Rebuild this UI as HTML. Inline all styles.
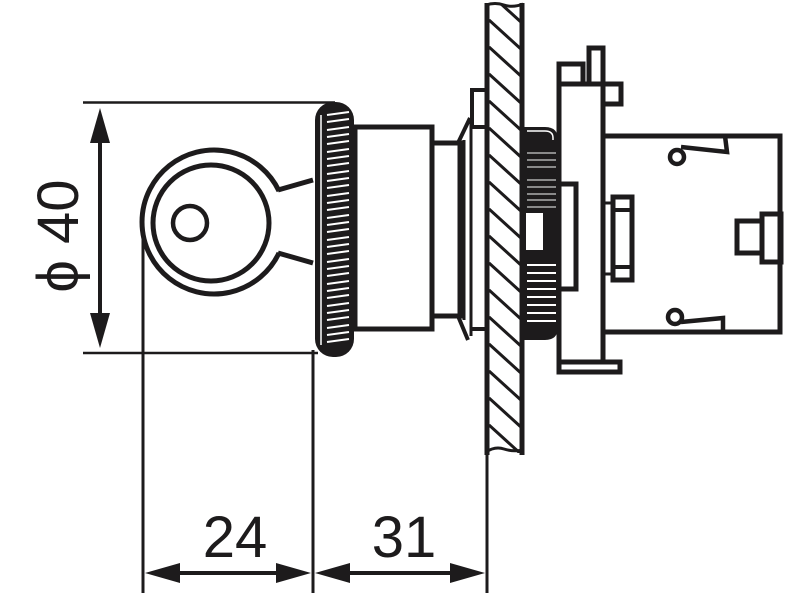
<!DOCTYPE html>
<html><head><meta charset="utf-8"><style>html,body{margin:0;padding:0;background:#fff}svg{display:block}</style></head>
<body>
<svg width="800" height="600" viewBox="0 0 800 600" xmlns="http://www.w3.org/2000/svg">
<defs>
<clipPath id="pc"><rect x="489" y="4" width="31" height="449"/></clipPath>
</defs>
<g fill="none" stroke="#1d1b1c" stroke-linecap="butt">
<line x1="83" y1="102.5" x2="335" y2="102.5" stroke-width="2.5"/>
<line x1="83" y1="353" x2="318" y2="353" stroke-width="2.5"/>
<line x1="100" y1="125" x2="100" y2="332" stroke-width="4"/>
<line x1="143" y1="225" x2="143" y2="593" stroke-width="3"/>
<line x1="313" y1="350" x2="313" y2="593" stroke-width="3"/>
<line x1="487" y1="450" x2="487" y2="593" stroke-width="3"/>
<line x1="160" y1="573" x2="296" y2="573" stroke-width="4"/>
<line x1="330" y1="573" x2="470" y2="573" stroke-width="4"/>

<path d="M278,190 L313,180" stroke-width="5"/>
<path d="M278,253 L313,263" stroke-width="5"/>
<path d="M279,191 A72,72 0 1 0 279,253" stroke-width="5"/>
<circle cx="211" cy="223" r="58" stroke-width="5"/>
<circle cx="190" cy="223" r="17" stroke-width="4.5"/>

<rect x="355" y="127" width="77" height="202" stroke-width="5"/>
<path d="M432,143 L460,143 L460,316 L432,316" stroke-width="5"/>
<path d="M458,143 L470,118 M458,316 L468,340" stroke-width="4"/>
<path d="M464,140 L464,320 M471,120 L471,336" stroke-width="3"/>
<path d="M471,127 L488,127 M471,329 L488,329" stroke-width="4"/>
<path d="M472,125 L472,90 L486,90" stroke-width="4"/>

<g clip-path="url(#pc)" stroke-width="3">
<path d="M489,20 l33,30 M489,47 l33,30 M489,74 l33,30 M489,101 l33,30 M489,128 l33,30 M489,155 l33,30 M489,182 l33,30 M489,209 l33,30 M489,236 l33,30 M489,263 l33,30 M489,290 l33,30 M489,317 l33,30 M489,344 l33,30 M489,371 l33,30 M489,398 l33,30 M489,425 l33,30 M489,-7 l33,30"/>
</g>
<line x1="487" y1="3" x2="487" y2="455" stroke-width="5"/>
<line x1="522" y1="3" x2="522" y2="455" stroke-width="5"/>
<path d="M486,5 Q495,2 504,5 Q513,8 523,4" stroke-width="3"/>
<path d="M486,452 Q495,446 504,449 Q513,452 523,450" stroke-width="3"/>

<rect x="559" y="84" width="44" height="278" stroke-width="5"/>
<rect x="559" y="64" width="24" height="20" stroke-width="5"/>
<rect x="589" y="48" width="14" height="36" stroke-width="5"/>
<rect x="603" y="84" width="18" height="20" stroke-width="5"/>
<rect x="559" y="362" width="61" height="10" stroke-width="5"/>
<rect x="558" y="184" width="18" height="105" stroke-width="5"/>

<rect x="603" y="136" width="177" height="196" stroke-width="5"/>
<circle cx="677" cy="157" r="7" stroke-width="4.5"/>
<path d="M681,147 L727,152 L725,136" stroke-width="4.5"/>
<circle cx="675" cy="317" r="7" stroke-width="4.5"/>
<path d="M681,322 L723,318 L723,332" stroke-width="4.5"/>
<rect x="737" y="221" width="25" height="32" stroke-width="5"/>
<rect x="762" y="214" width="19" height="48" stroke-width="5"/>
<rect x="613" y="197" width="19" height="83" stroke-width="5"/>
<path d="M613,210 L632,210 M613,267 L632,267" stroke-width="4"/>
<path d="M604,203 L613,203 M604,274 L613,274" stroke-width="3"/>
</g>

<rect x="315" y="102" width="39" height="255" rx="18" fill="#1d1b1c"/>
<path d="M321,115 L321,345" stroke="#fff" stroke-width="1.5"/>
<g stroke="#fff" stroke-width="2">
<path d="M327,115 l22,-3 M327,122 l22,-3 M327,130 l22,-3 M327,137 l22,-3 M327,144 l22,-3 M327,152 l22,-3 M327,159 l22,-3 M327,166 l22,-3 M327,174 l22,-3 M327,181 l22,-3 M327,188 l22,-3 M327,196 l22,-3 M327,203 l22,-3 M327,210 l22,-3 M327,218 l22,-3 M327,225 l22,-3 M327,232 l22,-3 M327,240 l22,-3 M327,247 l22,-3 M327,254 l22,-3 M327,262 l22,-3 M327,269 l22,-3 M327,276 l22,-3 M327,284 l22,-3 M327,291 l22,-3 M327,298 l22,-3 M327,306 l22,-3 M327,313 l22,-3 M327,320 l22,-3 M327,328 l22,-3 M327,335 l22,-3 M327,342 l22,-3"/>
</g>

<path d="M524,127 L545,127 Q558,127 558,140 L558,327 Q558,340 545,340 L524,340 Z" fill="#1d1b1c"/>
<path d="M527,131 L545,131 Q553,131 553,138 L553,140" stroke="#fff" stroke-width="1.5" fill="none"/>
<g stroke="#ccc" stroke-width="1.2">
<path d="M527,153 h29 M527,160 h29 M527,167 h29 M527,180 h29 M527,187 h29 M527,194 h29 M527,200 h29 M527,207 h29"/>
</g>
<g stroke="#fff" stroke-width="2">
<path d="M527,265 h29 M527,273 h29 M527,281 h29 M527,289 h29 M527,297 h29 M527,305 h29 M527,313 h29 M527,321 h29"/>
</g>
<rect x="526" y="213" width="17" height="37" fill="#fff"/>

<g fill="#1d1b1c">
<polygon points="100,108 90,143 110,143"/>
<polygon points="100,348 90,313 110,313"/>
<polygon points="145,573 180,563 180,583"/>
<polygon points="311,573 276,563 276,583"/>
<polygon points="315,573 350,563 350,583"/>
<polygon points="485,573 450,563 450,583"/>
</g>

<g font-family="Liberation Sans, sans-serif" font-size="58" fill="#1d1b1c">
<text x="235" y="557" text-anchor="middle">24</text>
<text x="404" y="557" text-anchor="middle">31</text>
<text transform="translate(78,236) rotate(-90)" text-anchor="middle">ϕ 40</text>
</g>
</svg>
</body></html>
